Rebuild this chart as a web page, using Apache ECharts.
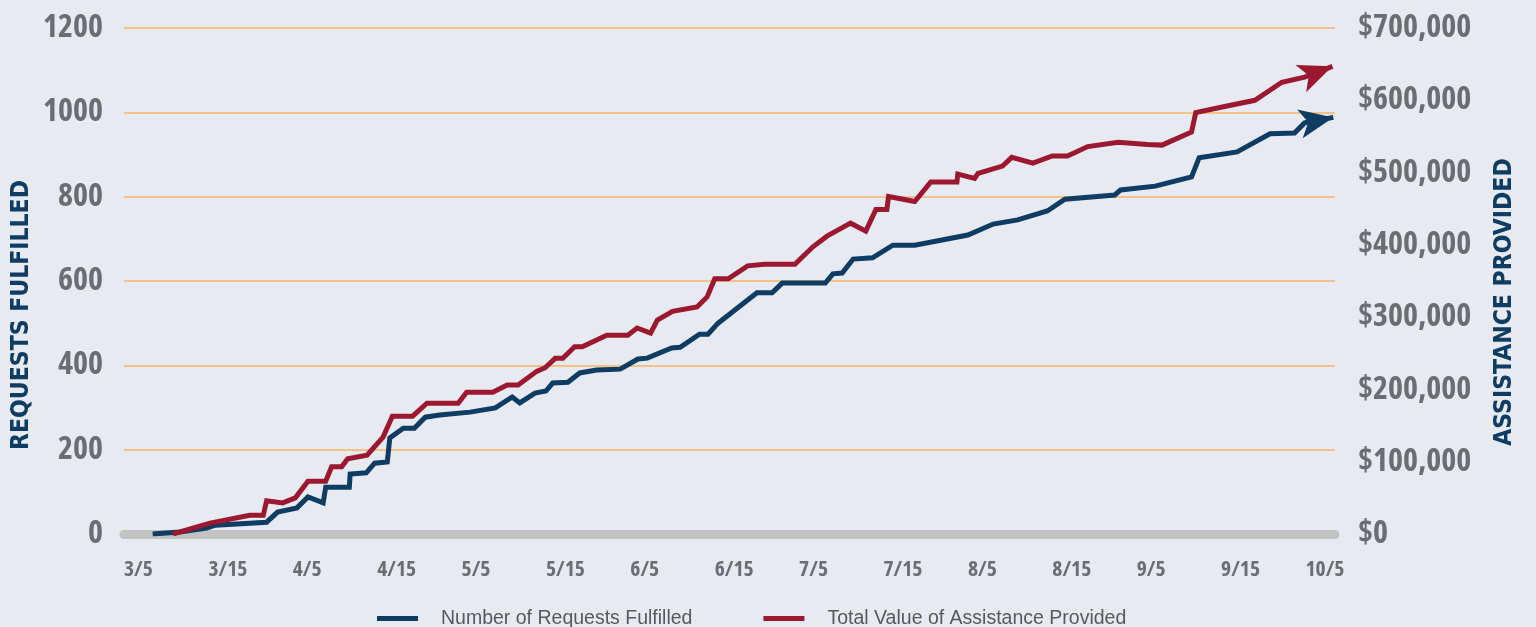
<!DOCTYPE html>
<html>
<head>
<meta charset="utf-8">
<script src="https://cdn.jsdelivr.net/npm/echarts@6/dist/echarts.min.js"></script>
<style>
  html, body { margin: 0; padding: 0; background: #e7eaf1; }
  #chart { width: 1536px; height: 627px; }
</style>
</head>
<body>
<div id="chart"></div>
<script>
// X tick labels (one per unit on the x scale)
const xLabels = ['3/5','3/15','4/5','4/15','5/5','5/15','6/5','6/15','7/5','7/15','8/5','8/15','9/5','9/15','10/5'];

// Number of Requests Fulfilled: [position on x scale, requests]
const requestsFulfilled = [
  [0.34,0],[0.66,5],[0.98,14],[1.08,21],[1.69,28],[1.82,52],[2.05,62],[2.18,88],[2.36,74],[2.39,111],
  [2.67,111],[2.68,142],[2.87,145],[2.97,168],[3.12,171],[3.15,228],[3.31,251],[3.44,251],[3.57,277],[3.74,282],
  [4.10,289],[4.40,299],[4.60,325],[4.69,311],[4.87,334],[5.00,339],[5.08,358],[5.26,360],[5.40,382],[5.60,389],
  [5.88,391],[6.09,415],[6.20,417],[6.49,441],[6.59,443],[6.82,474],[6.92,474],[7.04,500],[7.50,572],[7.68,572],
  [7.80,595],[8.31,595],[8.40,617],[8.51,619],[8.64,652],[8.87,655],[9.11,685],[9.37,685],[10.00,709],[10.30,735],
  [10.59,745],[10.94,766],[11.15,794],[11.74,804],[11.81,816],[12.22,825],[12.65,847],[12.74,892],[13.19,906],[13.58,949],
  [13.87,951],[13.99,975],[14.33,988]
];

// Total Value of Assistance Provided: [position on x scale, dollars]
const assistanceValue = [
  [0.58,0],[1.02,15000],[1.49,26000],[1.65,26000],[1.69,46000],[1.88,43000],[2.03,50000],[2.18,73000],[2.39,73000],[2.46,93000],
  [2.58,93000],[2.65,104000],[2.88,109000],[3.07,134000],[3.18,163000],[3.42,163000],[3.59,181000],[3.96,181000],[4.06,196000],[4.37,196000],
  [4.54,206000],[4.67,206000],[4.89,225000],[4.99,230000],[5.11,243000],[5.20,243000],[5.34,259000],[5.43,259000],[5.72,275000],[5.97,275000],
  [6.08,285000],[6.24,278000],[6.32,296000],[6.50,308000],[6.79,314000],[6.91,328000],[7.00,353000],[7.16,353000],[7.39,371000],[7.59,373000],
  [7.95,373000],[8.16,397000],[8.33,412000],[8.61,430000],[8.79,419000],[8.91,449000],[9.04,449000],[9.06,467000],[9.37,460000],[9.56,487000],
  [9.87,487000],[9.88,498000],[10.08,492000],[10.12,499000],[10.41,509000],[10.52,521000],[10.77,513000],[11.00,523000],[11.18,523000],[11.42,536000],
  [11.78,542000],[12.13,539000],[12.30,538000],[12.65,556000],[12.70,583000],[13.07,592000],[13.40,600000],[13.72,625000],[13.99,632000],[14.32,647000]
];

const NAVY = '#0e3c62';
const RED = '#9c1831';
const GREY_TXT = '#6b6d71';
const numFont = '"Open Sans", sans-serif';
const numWeight = 'condensed bold';
const titleFont = '"DejaVu Sans Condensed", sans-serif';

function withArrow(data, color, rotate) {
  return data.map((p, i) => {
    if (i !== data.length - 1) return p;
    return {
      value: p,
      symbol: 'arrow',
      symbolSize: [22, 34],
      symbolRotate: rotate,
      itemStyle: { color: color }
    };
  });
}

const chart = echarts.init(document.getElementById('chart'), null, { renderer: 'canvas' });
chart.setOption({
  backgroundColor: '#e7eaf1',
  animation: false,
  grid: { left: 124, right: 201, top: 28, bottom: 93, containLabel: false, outerBoundsMode: 'none' },
  legend: {
    left: 377, top: 608.5, padding: 0,
    itemWidth: 41, itemHeight: 5, itemGap: 71,
    icon: 'rect',
    textStyle: { fontFamily: '"Liberation Sans", Arial, sans-serif', fontSize: 19.5, color: '#58595c', padding: [0, 0, 0, 18] },
    data: ['Number of Requests Fulfilled', 'Total Value of Assistance Provided']
  },
  xAxis: {
    type: 'value', min: 0, max: 14.35, interval: 1,
    offset: 3.5,
    axisLine: { show: true, lineStyle: { color: '#c3c3c4', width: 9 } },
    axisTick: { show: false },
    splitLine: { show: false },
    axisLabel: {
      show: true, margin: 21, align: 'left',
      fontFamily: numFont, fontWeight: numWeight, fontSize: 21.5, color: GREY_TXT,
      formatter: v => (Number.isInteger(v) && xLabels[v] !== undefined) ? xLabels[v] : ''
    }
  },
  yAxis: [
    {
      type: 'value', min: 0, max: 1200, interval: 200,
      axisLine: { show: false }, axisTick: { show: false },
      splitLine: { show: true, lineStyle: { color: '#f6b662', width: 1.5 } },
      axisLabel: {
        margin: 21, fontFamily: numFont, fontWeight: numWeight, fontSize: 32, color: GREY_TXT,
        formatter: v => String(v)
      }
    },
    {
      type: 'value', min: 0, max: 700000, interval: 100000, position: 'right',
      axisLine: { show: false }, axisTick: { show: false },
      splitLine: { show: false },
      axisLabel: {
        margin: 23, fontFamily: numFont, fontWeight: numWeight, fontSize: 32, color: GREY_TXT,
        formatter: v => '$' + v.toLocaleString('en-US')
      }
    }
  ],
  graphic: [
    {
      type: 'text', x: 22, y: 315, rotation: Math.PI / 2,
      style: { text: 'REQUESTS FULFILLED', font: 'bold 24.5px ' + titleFont, fill: NAVY, align: 'center', verticalAlign: 'middle' }
    },
    {
      type: 'text', x: 1505, y: 302, rotation: Math.PI / 2,
      style: { text: 'ASSISTANCE PROVIDED', font: 'bold 24.5px ' + titleFont, fill: NAVY, align: 'center', verticalAlign: 'middle' }
    }
  ],
  series: [
    {
      name: 'Number of Requests Fulfilled', type: 'line', yAxisIndex: 0,
      color: NAVY, symbol: 'none', showSymbol: true,
      lineStyle: { width: 5, color: NAVY, join: 'miter' },
      emphasis: { disabled: true },
      data: withArrow(requestsFulfilled, NAVY, -79), z: 3
    },
    {
      name: 'Total Value of Assistance Provided', type: 'line', yAxisIndex: 1,
      color: RED, symbol: 'none', showSymbol: true,
      lineStyle: { width: 5, color: RED, join: 'miter' },
      emphasis: { disabled: true },
      data: withArrow(assistanceValue, RED, -68.6), z: 4
    }
  ]
});
</script>
</body>
</html>
